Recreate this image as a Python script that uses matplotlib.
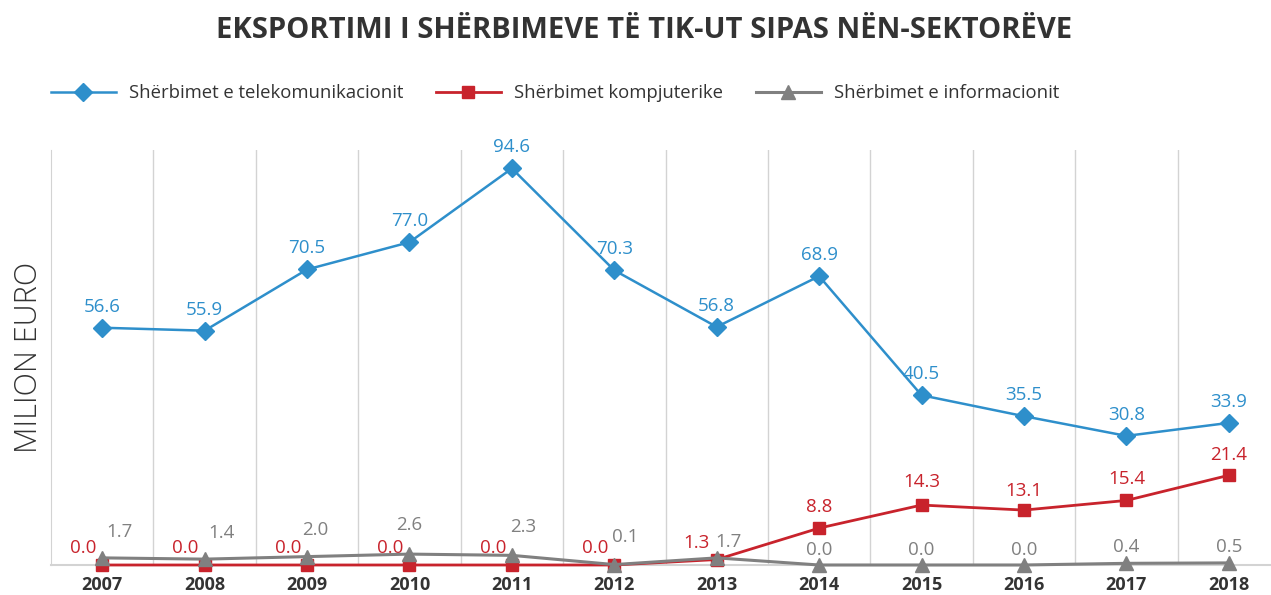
import matplotlib.pyplot as plt

plt.rcParams['font.family'] = ['Open Sans', 'DejaVu Sans']

# data
years = ["2007", "2008", "2009", "2010", "2011", "2012",
         "2013", "2014", "2015", "2016", "2017", "2018"]
telekom = [56.6, 55.9, 70.5, 77.0, 94.6, 70.3, 56.8, 68.9, 40.5, 35.5, 30.8, 33.9]
kompjuter = [0.0, 0.0, 0.0, 0.0, 0.0, 0.0, 1.3, 8.8, 14.3, 13.1, 15.4, 21.4]
informacion = [1.7, 1.4, 2.0, 2.6, 2.3, 0.1, 1.7, 0.0, 0.0, 0.0, 0.4, 0.5]

# label offsets in pixels (dx, dy)
off_red = [(-19, 17)] * 6 + [(-20, 17), (0, 21), (0, 23), (0, 19), (0, 21), (0, 20)]
off_gray = [(17, 26), (17, 26), (8, 27), (0, 29), (11, 28), (11, 28),
            (12, 16), (0, 15), (0, 15), (0, 15), (0, 16), (0, 16)]

BLUE = "#2e8fcb"
RED = "#c8232c"
GRAY = "#808080"
DARK = "#333333"

fig = plt.figure(figsize=(12.71, 5.95), dpi=100)
ax = fig.add_axes([51 / 1271, 30 / 595, 1229 / 1271, 415 / 595])

x = list(range(len(years)))

l1, = ax.plot(x, telekom, color=BLUE, lw=1.8, marker="D", ms=9, zorder=5,
              clip_on=False, label="Shërbimet e telekomunikacionit")
l2, = ax.plot(x, kompjuter, color=RED, lw=2, marker="s", ms=9, zorder=3,
              clip_on=False, label="Shërbimet kompjuterike")
l3, = ax.plot(x, informacion, color=GRAY, lw=2.2, marker="^", ms=10, zorder=4,
              clip_on=False, label="Shërbimet e informacionit")

for i, v in enumerate(telekom):
    ax.annotate(f"{v:.1f}", (i, v), xytext=(0, 21), textcoords="offset pixels",
                ha="center", va="center", color=BLUE, fontsize=13.5)
for i, v in enumerate(kompjuter):
    ax.annotate(f"{v:.1f}", (i, v), xytext=off_red[i], textcoords="offset pixels",
                ha="center", va="center", color=RED, fontsize=13.5)
for i, v in enumerate(informacion):
    ax.annotate(f"{v:.1f}", (i, v), xytext=off_gray[i], textcoords="offset pixels",
                ha="center", va="center", color=GRAY, fontsize=13.5)

ax.set_xlim(-0.5, len(years) - 0.5)
ax.set_ylim(0, 99)
ax.set_xticks(x)
ax.set_xticklabels(years, fontweight="bold", fontsize=13, color=DARK)
ax.tick_params(axis="x", length=0, pad=8)
ax.set_yticks([])

# vertical separators between years
for b in range(1, len(years)):
    ax.axvline(b - 0.5, color="#d3d3d3", lw=1, zorder=1)

for s in ["top", "right"]:
    ax.spines[s].set_visible(False)
ax.spines["left"].set_color("#d3d3d3")
ax.spines["bottom"].set_color("#d3d3d3")
ax.spines["bottom"].set_linewidth(1.5)

ax.set_ylabel("MILION EURO", fontsize=22, color=DARK, fontweight="light")
ax.yaxis.set_label_coords(-6 / 1229, 0.5)

fig.text(0.507, 0.948, "EKSPORTIMI I SHËRBIMEVE TË TIK-UT SIPAS NËN-SEKTORËVE",
         ha="center", va="center", fontsize=21, fontweight="bold", color=DARK)

fig.legend(handles=[l1, l2, l3], loc="center left", bbox_to_anchor=(0.027, 0.843),
           ncol=3, frameon=False, fontsize=13.3, handlelength=3.5,
           handletextpad=0.7, columnspacing=1.8, labelcolor=DARK)

fig.savefig("out.png", dpi=100)
